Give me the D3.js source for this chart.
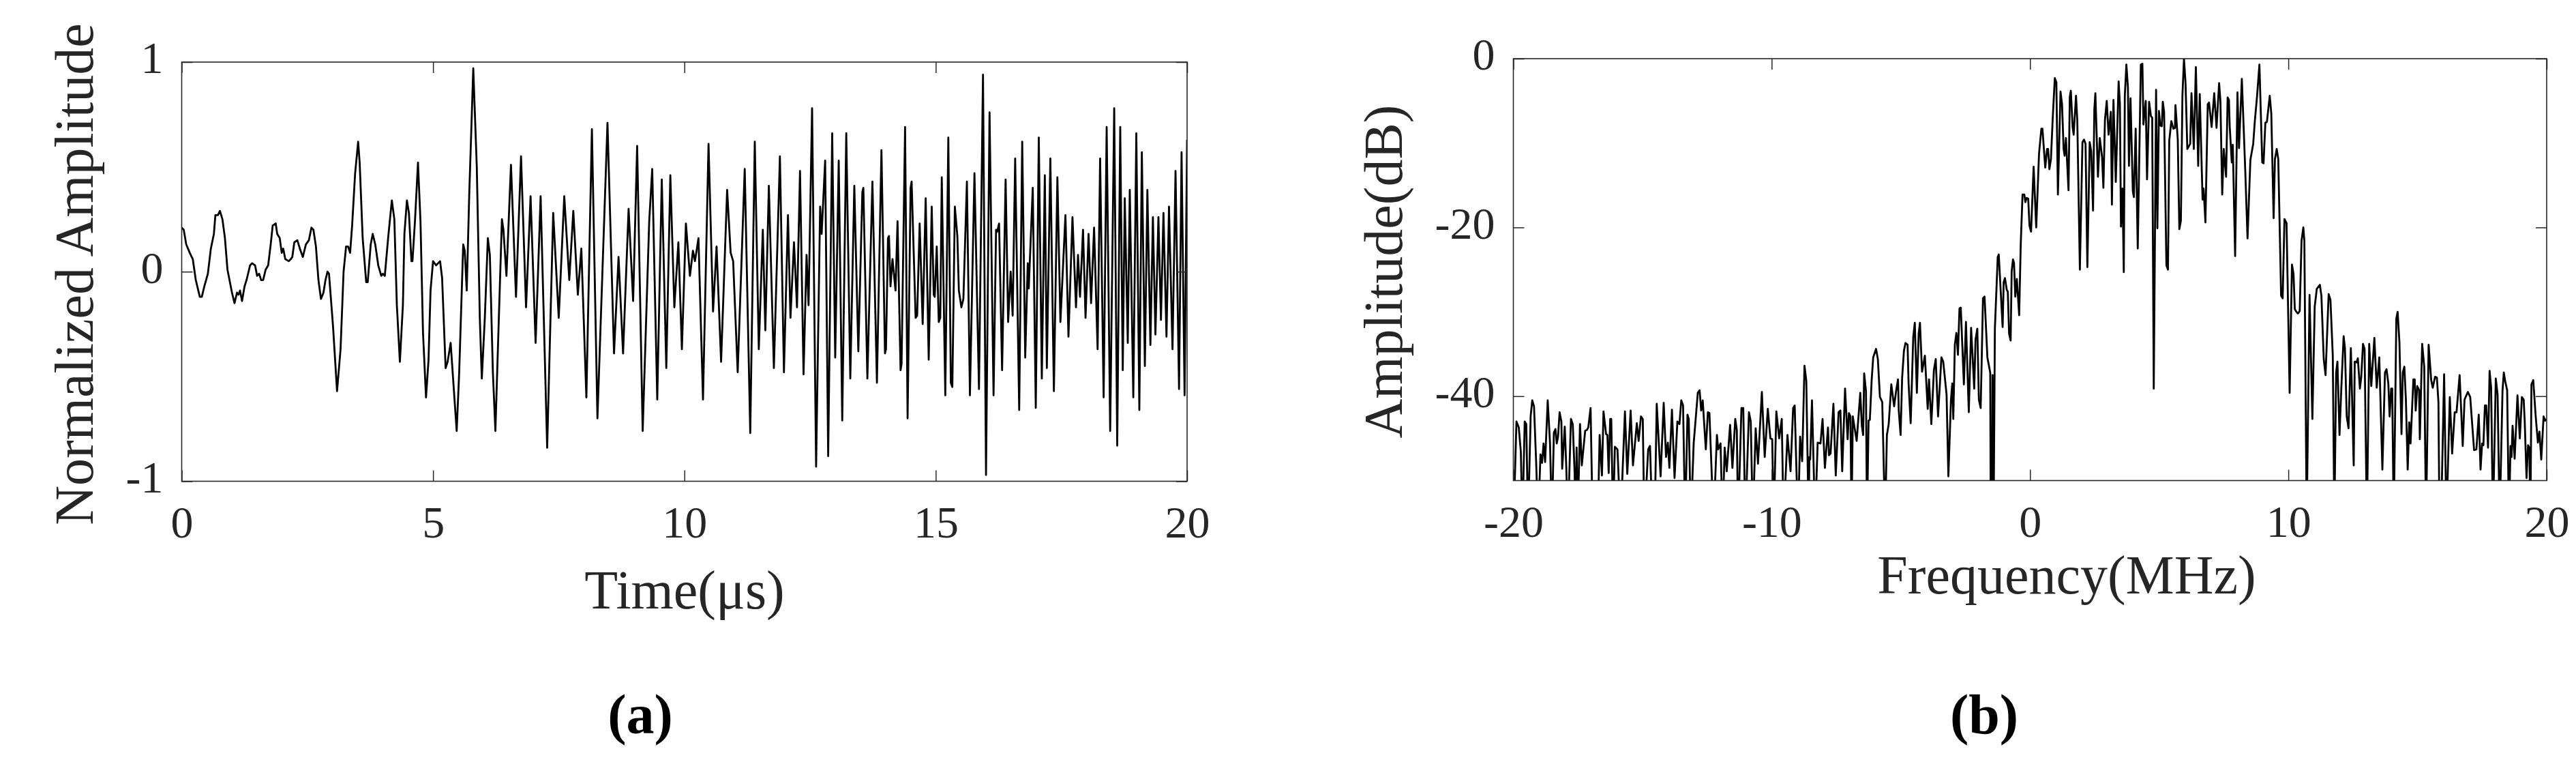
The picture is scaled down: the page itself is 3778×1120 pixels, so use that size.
<!DOCTYPE html>
<html><head><meta charset="utf-8">
<script src="https://cdn.jsdelivr.net/npm/d3@7"></script>
<style>
html,body{margin:0;padding:0;background:#fff;}
svg{display:block;}
</style>
</head><body>
<svg id="chart" width="3778" height="1120"></svg>
<script>
// ---------- DATA ----------
// (a) time signal: [time (us), normalized amplitude]
const timeSignal = [
[0.00,0.21],[0.04,0.20],[0.09,0.13],[0.16,0.09],[0.22,0.06],[0.28,-0.04],[0.36,-0.12],[0.40,-0.12],[0.45,-0.07],[0.52,-0.01],
[0.58,0.11],[0.64,0.18],[0.67,0.27],[0.72,0.27],[0.76,0.29],[0.81,0.25],[0.86,0.16],[0.91,0.01],[1.00,-0.10],[1.05,-0.15],
[1.10,-0.10],[1.13,-0.11],[1.16,-0.09],[1.20,-0.14],[1.25,-0.07],[1.29,-0.04],[1.36,0.03],[1.40,0.04],[1.46,0.03],[1.50,-0.02],
[1.54,-0.01],[1.58,-0.04],[1.62,-0.04],[1.67,0.01],[1.72,0.03],[1.77,0.13],[1.81,0.22],[1.87,0.23],[1.90,0.18],[1.95,0.16],
[1.99,0.09],[2.02,0.11],[2.06,0.06],[2.13,0.05],[2.17,0.06],[2.20,0.07],[2.24,0.14],[2.30,0.15],[2.35,0.11],[2.41,0.07],
[2.47,0.13],[2.53,0.15],[2.58,0.21],[2.62,0.20],[2.67,0.12],[2.72,-0.04],[2.77,-0.13],[2.82,-0.10],[2.86,-0.04],[2.90,0.00],
[2.93,-0.01],[3.01,-0.26],[3.09,-0.57],[3.16,-0.37],[3.22,0.00],[3.27,0.12],[3.31,0.12],[3.35,0.09],[3.39,0.22],[3.45,0.47],
[3.51,0.62],[3.54,0.52],[3.60,0.16],[3.67,-0.05],[3.70,-0.05],[3.76,0.13],[3.80,0.18],[3.85,0.13],[3.91,0.03],[3.97,-0.02],
[4.00,-0.01],[4.04,-0.02],[4.11,0.17],[4.18,0.34],[4.23,0.25],[4.28,-0.16],[4.34,-0.43],[4.40,-0.16],[4.43,0.18],[4.48,0.34],
[4.52,0.28],[4.57,0.05],[4.59,0.05],[4.64,0.24],[4.70,0.52],[4.75,0.24],[4.80,-0.29],[4.86,-0.60],[4.91,-0.42],[4.95,-0.09],
[5.00,0.05],[5.06,0.03],[5.14,0.05],[5.18,-0.03],[5.25,-0.46],[5.29,-0.43],[5.35,-0.34],[5.41,-0.55],[5.47,-0.76],[5.52,-0.48],
[5.60,0.13],[5.63,0.10],[5.67,-0.09],[5.72,0.37],[5.80,0.97],[5.87,0.50],[5.93,-0.22],[5.97,-0.51],[6.03,-0.22],[6.09,0.16],
[6.13,0.08],[6.19,-0.48],[6.24,-0.76],[6.30,-0.29],[6.37,0.25],[6.40,0.20],[6.46,-0.02],[6.55,0.51],[6.65,-0.12],
[6.75,0.55],[6.85,-0.17],[6.94,0.36],[7.04,-0.34],[7.14,0.36],[7.27,-0.84],[7.39,0.28],[7.50,-0.22],[7.61,0.36],[7.71,-0.04],
[7.79,0.29],[7.88,-0.11],[7.95,0.11],[8.05,-0.60],[8.16,0.68],[8.27,-0.70],[8.47,0.71],[8.60,-0.39],[8.69,0.07],[8.78,-0.39],
[8.89,0.30],[8.98,-0.14],[9.06,0.60],[9.17,-0.76],[9.30,0.24],[9.36,0.49],[9.46,-0.61],[9.55,0.44],[9.64,-0.46],[9.72,0.46],
[9.80,-0.17],[9.88,0.14],[9.95,-0.37],[10.03,0.23],[10.11,-0.02],[10.17,0.10],[10.21,0.05],[10.28,0.16],[10.37,-0.61],[10.48,0.61],
[10.57,-0.19],[10.64,0.12],[10.73,-0.43],[10.85,0.39],[10.92,0.09],[10.97,0.05],[11.06,-0.48],[11.20,0.49],[11.31,-0.77],[11.40,0.62],
[11.48,-0.37],[11.56,0.20],[11.61,-0.28],[11.68,0.41],[11.78,-0.46],[11.90,0.55],[11.98,-0.48],[12.06,0.27],[12.11,-0.22],[12.18,0.14],
[12.24,-0.17],[12.30,0.48],[12.37,-0.49],[12.43,0.08],[12.47,-0.16],[12.54,0.78],[12.62,-0.93],[12.70,0.31],[12.73,0.18],[12.80,0.53],
[12.86,-0.88],[12.94,0.66],[13.00,-0.41],[13.07,0.53],[13.14,-0.71],[13.22,0.66],[13.30,-0.51],
[13.38,0.41],[13.46,-0.38],[13.54,0.38],[13.56,0.40],[13.64,-0.51],[13.74,0.43],[13.83,-0.53],[13.92,0.58],[13.99,-0.39],[14.01,-0.37],
[14.05,0.16],[14.07,0.17],[14.10,-0.07],[14.14,0.06],[14.20,-0.09],[14.24,0.24],[14.30,-0.47],[14.32,-0.44],[14.39,0.69],[14.44,-0.70],
[14.50,0.40],[14.52,0.43],[14.60,-0.22],[14.63,-0.21],[14.68,0.23],[14.74,-0.25],[14.80,0.35],[14.86,-0.42],[14.92,0.31],[14.96,-0.11],
[14.98,-0.12],[15.02,0.12],[15.06,-0.24],[15.09,-0.22],[15.12,0.45],[15.19,-0.59],[15.25,0.64],[15.30,-0.53],[15.33,-0.55],[15.38,0.31],
[15.43,0.17],[15.46,-0.09],[15.51,-0.17],[15.55,-0.13],[15.62,0.43],[15.68,-0.59],[15.77,0.47],[15.86,-0.56],[15.94,0.94],[16.00,-0.97],
[16.07,0.76],[16.15,-0.59],[16.20,0.20],[16.22,0.19],[16.26,0.23],[16.32,-0.47],[16.39,0.44],[16.44,-0.24],[16.49,0.00],[16.53,-0.21],
[16.58,0.54],[16.66,-0.66],[16.72,0.62],[16.78,-0.41],[16.83,0.04],[16.85,-0.08],[16.93,0.40],[16.99,-0.65],[17.05,0.64],[17.11,-0.51],
[17.17,0.46],[17.21,-0.46],[17.28,0.54],[17.35,-0.57],[17.42,0.45],[17.48,-0.24],[17.58,0.27],[17.64,-0.31],[17.72,0.26],[17.79,-0.17],
[17.83,0.08],[17.87,-0.12],[17.93,0.20],[17.98,-0.22],[18.04,0.18],[18.09,-0.15],[18.15,0.21],[18.22,-0.37],[18.27,0.54],[18.34,-0.60],
[18.40,0.69],[18.47,-0.76],[18.55,0.78],[18.61,-0.83],[18.67,0.69],[18.72,-0.47],[18.76,0.35],[18.82,-0.34],[18.86,0.39],[18.93,-0.60],
[18.99,0.66],[19.05,-0.66],[19.10,0.57],[19.16,-0.45],[19.21,0.39],[19.27,-0.35],[19.32,0.26],[19.37,-0.30],[19.43,0.26],[19.48,-0.23],
[19.53,0.28],[19.59,-0.31],[19.64,0.31],[19.71,-0.37],[19.77,0.48],[19.84,-0.56],[19.89,0.57],[19.95,-0.59],[20.00,0.63]
];
const timeTicks = [0, 5, 10, 15, 20];
const ampTicks = [-1, 0, 1];

// (b) spectrum: [frequency (MHz), amplitude (dB)]
const spectrum = [
[-19.99,-55],[-19.88,-43.0],[-19.79,-43.7],[-19.71,-46.6],[-19.65,-55],[-19.56,-43.0],[-19.50,-43.3],[-19.43,-55],[-19.33,-42.4],[-19.27,-40.5],
[-19.20,-41.2],[-19.12,-47.6],[-19.04,-55],[-18.95,-46.9],[-18.89,-47.9],[-18.83,-45.6],[-18.77,-47.8],[-18.67,-40.5],[-18.58,-45.6],[-18.51,-55],
[-18.43,-44.3],[-18.37,-43.9],[-18.32,-45.6],[-18.27,-44.8],[-18.21,-41.9],[-18.14,-43.0],[-18.11,-48.6],[-18.01,-43.6],[-17.95,-48.5],[-17.89,-55],
[-17.77,-42.7],[-17.70,-43.3],[-17.63,-48.9],[-17.59,-55],[-17.55,-46.1],[-17.51,-55],[-17.42,-43.3],[-17.35,-48.2],[-17.22,-44.1],[-17.15,-44.0],
[-17.10,-43.7],[-17.01,-41.4],[-16.93,-55],[-16.73,-55],[-16.66,-44.6],[-16.57,-49.4],[-16.51,-41.8],[-16.41,-44.5],[-16.36,-44.6],[-16.31,-49.1],
[-16.25,-42.7],[-16.21,-42.7],[-16.14,-55],[-16.07,-46.0],[-15.97,-46.3],[-15.85,-55],[-15.68,-41.8],[-15.59,-49.2],[-15.46,-41.7],[-15.37,-48.2],
[-15.22,-43.2],[-15.15,-45.3],[-15.06,-42.4],[-14.99,-42.7],[-14.93,-55],[-14.78,-46.3],[-14.71,-45.9],[-14.62,-55],[-14.53,-55],[-14.45,-40.9],
[-14.30,-49.5],[-14.18,-40.8],[-14.09,-47.2],[-14.02,-45.5],[-13.96,-48.5],[-13.86,-41.6],[-13.76,-49.7],[-13.65,-43.0],[-13.57,-43.3],[-13.50,-40.5],
[-13.43,-41.1],[-13.35,-55],[-13.26,-42.2],[-13.21,-42.7],[-13.13,-55],[-13.02,-45.6],[-12.86,-39.6],[-12.79,-39.3],[-12.73,-41.7],[-12.67,-40.5],
[-12.55,-46.3],[-12.47,-41.9],[-12.41,-42.0],[-12.25,-55],[-12.12,-44.6],[-12.07,-46.3],[-11.98,-45.6],[-11.90,-55],[-11.82,-46.1],[-11.74,-48.9],
[-11.61,-43.4],[-11.52,-48.5],[-11.41,-42.7],[-11.35,-44.0],[-11.30,-55],[-11.17,-41.4],[-11.10,-41.4],[-11.02,-55],[-10.88,-41.9],[-10.81,-43.0],
[-10.73,-55],[-10.62,-43.8],[-10.53,-48.0],[-10.38,-39.5],[-10.27,-47.2],[-10.15,-41.5],[-10.05,-45.0],[-9.98,-45.1],[-9.92,-55],[-9.82,-41.8],
[-9.71,-45.0],[-9.61,-42.7],[-9.54,-55],[-9.39,-44.6],[-9.27,-48.9],[-9.17,-41.4],[-9.11,-41.1],[-9.04,-48.9],[-8.98,-55],[-8.90,-44.8],
[-8.82,-47.7],[-8.73,-36.4],[-8.66,-38.2],[-8.57,-55],[-8.54,-47.2],[-8.51,-47.5],[-8.44,-40.5],[-8.32,-55],[-8.22,-45.5],[-8.11,-45.6],
[-8.03,-42.7],[-7.94,-48.5],[-7.82,-43.7],[-7.78,-47.0],[-7.72,-46.8],[-7.61,-40.9],[-7.52,-49.4],[-7.41,-41.9],[-7.34,-41.7],[-7.27,-48.9],
[-7.16,-39.1],[-7.06,-45.1],[-7.01,-42.0],[-6.95,-42.4],[-6.91,-55],[-6.86,-42.4],[-6.71,-45.3],[-6.57,-39.6],
[-6.51,-43.5],[-6.46,-44.6],[-6.42,-37.3],[-6.35,-39.4],[-6.31,-55],[-6.25,-42.9],[-6.20,-42.8],[-6.13,-38.1],[-6.07,-35.4],[-5.96,-34.4],
[-5.89,-35.6],[-5.81,-40.1],[-5.72,-40.7],[-5.61,-55],[-5.54,-44.6],[-5.47,-43.3],[-5.37,-38.6],[-5.26,-41.2],[-5.18,-39.3],[-5.11,-38.0],
[-5.08,-41.7],[-5.01,-44.6],[-4.95,-37.8],[-4.88,-34.6],[-4.82,-33.7],[-4.74,-33.9],[-4.70,-38.5],[-4.62,-43.2],[-4.52,-33.0],[-4.46,-31.3],
[-4.38,-39.6],[-4.31,-32.6],[-4.26,-31.3],[-4.18,-37.1],[-4.07,-35.2],[-3.96,-41.5],[-3.91,-38.0],[-3.82,-43.3],[-3.72,-36.9],[-3.65,-35.6],
[-3.56,-42.4],[-3.43,-35.4],[-3.36,-35.9],[-3.23,-39.8],[-3.16,-49.5],[-3.06,-40.4],[-3.01,-38.5],[-2.97,-42.7],[-2.91,-33.9],[-2.85,-32.5],
[-2.79,-35.1],[-2.73,-29.6],[-2.68,-29.5],[-2.56,-38.6],[-2.48,-31.2],[-2.37,-41.9],[-2.28,-31.9],[-2.16,-39.1],[-2.11,-33.3],[-2.04,-32.0],
[-1.98,-40.4],[-1.91,-41.4],[-1.82,-28.4],[-1.76,-28.2],[-1.65,-35.4],[-1.54,-37.2],[-1.52,-55],[-1.47,-55],[-1.45,-37.5],[-1.41,-55],
[-1.36,-32.0],[-1.25,-23.5],[-1.21,-23.2],[-1.06,-31.8],[-1.02,-26.5],[-0.97,-26.0],[-0.90,-27.4],[-0.86,-27.6],[-0.81,-32.6],[-0.75,-33.4],
[-0.71,-25.2],[-0.66,-23.8],[-0.62,-24.2],[-0.57,-28.2],[-0.51,-26.1],[-0.42,-30.4],[-0.36,-22.1],[-0.29,-16.1],[-0.22,-16.1],[-0.18,-17.0],
[-0.13,-16.5],[-0.07,-16.6],[-0.02,-19.8],[0.04,-20.5],[0.14,-12.8],[0.24,-20.0],[0.35,-11.2],[0.44,-8.3],[0.48,-8.3],[0.59,-12.9],
[0.66,-10.7],[0.70,-10.7],[0.75,-13.1],[0.81,-11.9],[0.88,-7.0],[0.96,-2.3],[1.02,-2.8],[1.08,-16.1],[1.18,-3.9],[1.24,-5.4],
[1.30,-10.7],[1.34,-11.5],[1.39,-9.4],[1.49,-15.6],[1.54,-4.5],[1.58,-3.8],[1.65,-8.1],[1.69,-9.0],[1.78,-4.4],[1.83,-7.3],
[1.93,-25.0],[2.03,-9.9],[2.09,-9.6],[2.15,-10.1],[2.22,-24.7],[2.31,-9.9],[2.37,-11.0],[2.44,-18.0],[2.49,-6.0],[2.53,-4.1],
[2.63,-14.0],[2.70,-9.4],[2.79,-11.7],[2.84,-15.3],[2.90,-7.3],[2.97,-5.0],[3.04,-9.0],[3.13,-6.3],[3.17,-17.3],[3.23,-4.9],
[3.32,-14.6],[3.43,-2.7],[3.48,-5.4],[3.52,-19.9],[3.58,-15.4],[3.63,-25.3],[3.67,-4.4],[3.73,-0.7],[3.79,-3.4],[3.83,-12.7],
[3.89,-4.7],[3.98,-15.7],[4.02,-16.4],[4.09,-8.3],[4.17,-22.5],[4.29,-0.7],[4.35,-0.6],[4.39,-7.8],[4.48,-5.0],[4.53,-14.3],
[4.61,-5.1],[4.68,-6.8],[4.73,-7.0],[4.79,-39.1],[4.88,-3.7],[4.93,-20.1],[4.99,-6.2],[5.04,-7.9],[5.10,-8.0],[5.14,-5.1],
[5.19,-6.3],[5.28,-24.5],[5.34,-25.0],[5.39,-9.7],[5.47,-7.4],[5.55,-8.3],[5.61,-8.2],[5.63,-5.5],[5.72,-9.6],[5.78,-20.2],
[5.84,-19.2],[5.90,-4.4],[5.96,0.0],[6.02,-2.9],[6.09,-10.7],[6.20,-10.1],[6.25,-4.1],[6.34,-10.7],[6.42,-1.0],[6.51,-12.7],
[6.57,-4.2],[6.68,-16.7],[6.72,-15.4],[6.79,-19.4],[6.88,-5.4],
[6.93,-5.2],[7.03,-8.1],[7.13,-4.1],[7.22,-8.2],[7.32,-2.9],[7.37,-5.0],[7.44,-16.1],[7.50,-10.7],[7.59,-14.0],[7.65,-4.6],
[7.70,-4.9],[7.73,-8.0],[7.81,-12.3],[7.85,-10.2],[7.94,-23.4],[8.03,-4.0],[8.09,-10.6],[8.20,-2.4],[8.33,-13.1],[8.42,-21.3],
[8.53,-12.0],[8.64,-10.1],[8.70,-7.5],[8.79,-4.4],[8.88,-0.7],[8.99,-12.3],[9.04,-12.4],[9.11,-7.6],[9.17,-7.5],[9.28,-4.4],
[9.34,-6.5],[9.43,-18.9],[9.48,-11.9],[9.55,-10.7],[9.61,-11.9],[9.72,-28.1],[9.78,-28.4],[9.85,-19.0],[9.93,-19.5],[10.05,-39.6],
[10.14,-24.4],[10.20,-25.5],[10.25,-29.7],[10.31,-30.0],[10.37,-30.2],[10.44,-29.9],[10.51,-21.6],[10.58,-20.0],[10.62,-21.6],[10.71,-55],
[10.82,-28.0],[10.93,-42.7],[11.02,-29.4],[11.10,-27.3],[11.22,-26.8],[11.28,-28.1],[11.37,-35.6],[11.44,-37.5],[11.56,-27.9],[11.63,-28.6],
[11.72,-35.2],[11.78,-55],[11.85,-37.2],[11.90,-35.9],[11.98,-44.6],[12.05,-39.1],[12.14,-32.9],[12.19,-34.3],[12.26,-42.4],[12.33,-43.8],
[12.42,-34.3],[12.53,-48.2],[12.57,-35.9],[12.64,-36.0],[12.69,-35.5],[12.77,-39.1],[12.82,-37.8],[12.89,-33.8],[12.95,-34.4],[13.04,-55],
[13.13,-33.8],[13.21,-38.8],[13.33,-33.1],[13.42,-39.0],[13.52,-35.4],[13.64,-48.7],[13.74,-37.2],[13.80,-36.8],[13.87,-38.5],[13.92,-42.4],
[13.98,-39.1],[14.02,-39.1],[14.08,-55],[14.18,-30.8],[14.23,-30.0],[14.30,-33.6],[14.38,-44.5],[14.43,-37.2],[14.49,-36.5],[14.55,-40.4],
[14.62,-48.7],[14.68,-43.1],[14.73,-45.6],[14.84,-38.0],[14.89,-38.0],[14.93,-41.7],[14.99,-38.8],[15.06,-39.3],[15.09,-45.1],[15.18,-33.8],
[15.26,-36.5],[15.33,-55],[15.43,-33.9],[15.53,-38.1],[15.59,-39.0],[15.68,-37.7],[15.75,-37.8],[15.81,-40.7],[15.85,-55],[15.91,-55],
[16.03,-37.4],[16.12,-55],[16.25,-40.1],[16.34,-46.8],[16.44,-41.9],[16.51,-41.9],[16.63,-37.5],[16.75,-45.9],[16.82,-40.4],[16.95,-39.5],
[17.04,-40.1],[17.19,-46.4],[17.28,-46.3],[17.37,-42.2],[17.44,-48.7],[17.50,-45.6],[17.55,-45.8],[17.61,-41.1],[17.66,-41.1],[17.73,-46.1],
[17.79,-37.0],[17.85,-39.0],[17.92,-55],[18.03,-37.9],[18.10,-39.8],[18.18,-55],[18.29,-39.4],[18.34,-37.2],[18.40,-38.3],[18.47,-39.3],
[18.54,-55],[18.60,-45.9],[18.64,-47.2],[18.68,-43.5],[18.76,-47.4],[18.87,-39.9],[18.96,-45.0],[19.04,-40.1],[19.11,-40.4],[19.15,-43.0],
[19.22,-49.7],[19.28,-45.8],[19.33,-46.1],[19.37,-55],[19.41,-38.6],[19.48,-38.1],[19.57,-42.2],[19.66,-45.5],[19.72,-44.2],[19.79,-47.5],
[19.88,-42.4],[19.94,-42.9],[19.99,-42.7]
];
const freqTicks = [-20, -10, 0, 10, 20];
const dbTicks = [-40, -20, 0];

// ---------- DRAWING ----------
const svg = d3.select("#chart");
const FONT = "'Liberation Serif','Times New Roman',serif";
const AXC = "#262626";
const TICK_FS = 66, LABEL_FS = 80, CAP_FS = 82, TICKLEN = 16;

function panel(o) {
  const x = d3.scaleLinear().domain(o.xDom).range([o.left, o.right]);
  const y = d3.scaleLinear().domain(o.yDom).range([o.bottom, o.top]);
  const g = svg.append("g");
  svg.append("defs").append("clipPath").attr("id", o.id)
    .append("rect").attr("x", o.left).attr("y", o.top)
    .attr("width", o.right - o.left).attr("height", o.bottom - o.top);

  // data line
  g.append("path").datum(o.data)
    .attr("clip-path", `url(#${o.id})`)
    .attr("fill", "none").attr("stroke", "#000")
    .attr("stroke-width", 2.8).attr("stroke-linejoin", "round")
    .attr("d", d3.line().x(d => x(d[0])).y(d => y(d[1])));

  const fmt = d => String(d);
  const style = sel => {
    sel.attr("color", AXC).attr("font-family", FONT).attr("font-size", TICK_FS);
    sel.select(".domain").remove();
    sel.selectAll(".tick line").attr("stroke-width", 1.5);
    sel.selectAll("text").attr("fill", AXC);
  };
  g.append("g").attr("transform", `translate(0,${o.bottom})`)
    .call(d3.axisBottom(x).tickValues(o.xTicks).tickFormat(fmt)
      .tickSizeInner(-TICKLEN).tickSizeOuter(0).tickPadding(36)).call(style);
  g.append("g").attr("transform", `translate(0,${o.top})`)
    .call(d3.axisTop(x).tickValues(o.xTicks).tickFormat("")
      .tickSizeInner(-TICKLEN).tickSizeOuter(0)).call(style);
  g.append("g").attr("transform", `translate(${o.left},0)`)
    .call(d3.axisLeft(y).tickValues(o.yTicks).tickFormat(fmt)
      .tickSizeInner(-TICKLEN).tickSizeOuter(0).tickPadding(27)).call(style)
    .selectAll("text").attr("dy", "0.24em");
  g.append("g").attr("transform", `translate(${o.right},0)`)
    .call(d3.axisRight(y).tickValues(o.yTicks).tickFormat("")
      .tickSizeInner(-TICKLEN).tickSizeOuter(0)).call(style);

  // frame
  g.append("rect").attr("x", o.left).attr("y", o.top)
    .attr("width", o.right - o.left).attr("height", o.bottom - o.top)
    .attr("fill", "none").attr("stroke", AXC).attr("stroke-width", 1.6);

  // labels
  g.append("text").attr("x", o.xLabelX).attr("y", o.xLabelY)
    .attr("text-anchor", "middle").attr("font-family", FONT)
    .attr("font-size", LABEL_FS).attr("fill", AXC).text(o.xLabel);
  g.append("text")
    .attr("transform", `translate(${o.yLabelX},${o.yLabelY}) rotate(-90)`)
    .attr("text-anchor", "middle").attr("font-family", FONT)
    .attr("font-size", LABEL_FS).attr("fill", AXC).text(o.yLabel);
  g.append("text").attr("x", o.capX).attr("y", 1075)
    .attr("text-anchor", "middle").attr("font-family", FONT)
    .attr("font-size", CAP_FS).attr("font-weight", "bold").attr("fill", "#000")
    .text(o.caption);
}

panel({
  id: "clipA", left: 266.5, right: 1741, top: 91, bottom: 705.5,
  xDom: [0, 20], yDom: [-1, 1], xTicks: timeTicks, yTicks: ampTicks,
  data: timeSignal,
  xLabel: "Time(\u03bcs)", xLabelX: 1004, xLabelY: 892,
  yLabel: "Normalized Amplitude", yLabelX: 136, yLabelY: 402,
  caption: "(a)", capX: 939
});
panel({
  id: "clipB", left: 2219.5, right: 3735, top: 86, bottom: 704.5,
  xDom: [-20, 20], yDom: [-50, 0], xTicks: freqTicks, yTicks: dbTicks,
  data: spectrum,
  xLabel: "Frequency(MHz)", xLabelX: 3031, xLabelY: 870,
  yLabel: "Amplitude(dB)", yLabelX: 2056, yLabelY: 398,
  caption: "(b)", capX: 2910
});
</script>
</body></html>
